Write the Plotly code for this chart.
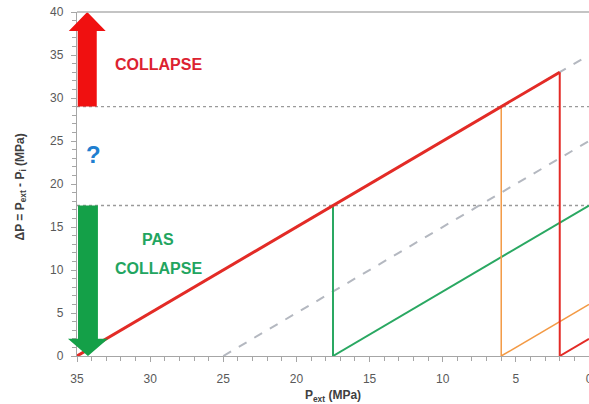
import plotly.graph_objects as go

# ---- data ----
red_line_x = [35, 2]
red_line_y = [0, 33]
red_vert_x = [2, 2]
red_vert_y = [0, 33]
red_small_x = [2, 0]
red_small_y = [0, 2]
orange_vert_x = [6, 6]
orange_vert_y = [0, 29]
orange_diag_x = [6, 0]
orange_diag_y = [0, 6]
green_vert_x = [17.5, 17.5]
green_vert_y = [0, 17.5]
green_diag_x = [17.5, 0]
green_diag_y = [0, 17.5]
gray_dash1_x = [35, 0]
gray_dash1_y = [0, 35]
gray_dash2_x = [25, 0]
gray_dash2_y = [0, 25]
hline_levels = [29, 17.5]

X_MAX, X_MIN = 35, 0
Y_MIN, Y_MAX = 0, 40

RED = "#e32b26"
ORANGE = "#f39a45"
GREEN = "#2aa862"
GRAY_DASH = "#b4b8c0"

fig = go.Figure()

def line(x, y, color, width=2, dash=None):
    fig.add_trace(go.Scatter(x=x, y=y, mode="lines", showlegend=False,
                             hoverinfo="skip",
                             line=dict(color=color, width=width, dash=dash)))

for lv in hline_levels:
    line([X_MAX, X_MIN], [lv, lv], "#9a9a9a", 1.3, "dot")
line(gray_dash1_x, gray_dash1_y, GRAY_DASH, 2, "dash")
line(gray_dash2_x, gray_dash2_y, GRAY_DASH, 2, "dash")
line(green_diag_x, green_diag_y, GREEN, 2)
line(green_vert_x, green_vert_y, GREEN, 2)
line(orange_diag_x, orange_diag_y, ORANGE, 1.5)
line(orange_vert_x, orange_vert_y, ORANGE, 1.5)
line(red_small_x, red_small_y, RED, 2)
line(red_vert_x, red_vert_y, RED, 2)
line(red_line_x, red_line_y, RED, 3)

# ---- arrows (paper coordinates computed from data units) ----
def px(x):
    return (X_MAX - x) / (X_MAX - X_MIN)

def py(y):
    return (y - Y_MIN) / (Y_MAX - Y_MIN)

def arrow_path(xc, y_from, y_to, shaft_hw, head_hw, head_len):
    d = 1 if y_to > y_from else -1
    yb = y_to - d * head_len
    pts = [(xc + shaft_hw, y_from), (xc + shaft_hw, yb), (xc + head_hw, yb),
           (xc, y_to), (xc - head_hw, yb), (xc - shaft_hw, yb),
           (xc - shaft_hw, y_from)]
    return "M " + " L ".join(f"{px(a):.5f},{py(b):.5f}" for a, b in pts) + " Z"

fig.add_shape(type="path", xref="paper", yref="paper", layer="above",
              path=arrow_path(34.30, 29, 40, 0.65, 1.26, 2.2),
              fillcolor="#f01010", line=dict(width=0))
fig.add_shape(type="path", xref="paper", yref="paper", layer="above",
              path=arrow_path(34.25, 17.5, 0, 0.68, 1.37, 2.0),
              fillcolor="#14a048", line=dict(width=0))

TXT = "Liberation Sans"
fig.add_annotation(x=29.45, y=33.9, text="<b>COLLAPSE</b>", showarrow=False,
                   font=dict(family=TXT, size=16, color="#dc2230"))
fig.add_annotation(x=33.9, y=23.4, text="<b>?</b>", showarrow=False,
                   font=dict(family=TXT, size=24, color="#1f7fd0"))
fig.add_annotation(x=29.45, y=13.5, text="<b>PAS</b>", showarrow=False,
                   font=dict(family=TXT, size=16, color="#22a560"))
fig.add_annotation(x=29.45, y=10.2, text="<b>COLLAPSE</b>", showarrow=False,
                   font=dict(family=TXT, size=16, color="#22a560"))

# y-axis title as annotation
fig.add_annotation(xref="paper", yref="paper", x=0, xshift=-66, y=0.49,
                   textangle=-90, showarrow=False,
                   text="<b>ΔP = P<sub>ext</sub> - P<sub>i</sub> (MPa)</b>",
                   font=dict(family=TXT, size=12, color="#404040"))

axis_common = dict(showgrid=False, zeroline=False, showline=True,
                   automargin=False, ticklabeloverflow="allow",
                   linecolor="#a6a6a6", linewidth=1.3,
                   ticks="outside", ticklen=5, tickcolor="#a6a6a6",
                   tickfont=dict(family=TXT, size=12, color="#595959"),
                   minor=dict(ticks="outside", ticklen=4, dtick=1,
                              tickcolor="#a6a6a6"))

fig.update_xaxes(range=[X_MAX, X_MIN], dtick=5, tick0=0, ticklabelstandoff=6,
                 **axis_common,
                 title=dict(text="<b>P<sub>ext</sub> (MPa)</b>", standoff=10,
                            font=dict(family=TXT, size=12, color="#404040")))
fig.update_yaxes(range=[Y_MIN, Y_MAX], dtick=5, ticklabelstandoff=5,
                 **axis_common)

# top border
fig.add_shape(type="line", xref="paper", yref="paper", x0=0, x1=1, y0=1, y1=1,
              line=dict(color="#b0b0b0", width=1.5))

fig.update_layout(width=589, height=404,
                  margin=dict(l=77, r=0, t=12, b=48, autoexpand=False),
                  plot_bgcolor="white", paper_bgcolor="white")

# remove the page's default 8px body margin so the figure fills the window
fig.write_html("out.html", config={"displayModeBar": False},
               post_script="document.body.style.margin='0';"
                           "document.body.style.overflow='hidden';")
